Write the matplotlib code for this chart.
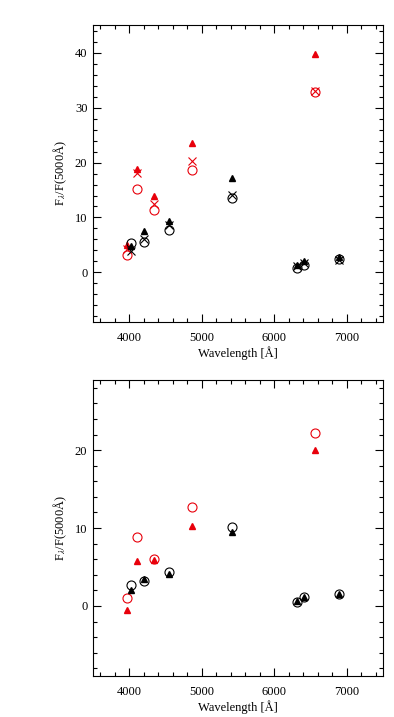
import matplotlib
matplotlib.use("Agg")
import matplotlib.pyplot as plt
from matplotlib.ticker import MultipleLocator

plt.rcParams['font.family'] = ['Liberation Serif', 'DejaVu Serif']
plt.rcParams['mathtext.fontset'] = 'stix'

# line wavelengths
wl_h = [3970, 4102, 4340, 4861, 6563]          # Balmer (red)
wl_he = [4026, 4200, 4542, 5411, 6311, 6406, 6891]  # He II (black)

# top panel
top_h_tri = [5.0, 18.8, 13.9, 23.5, 39.7]
top_h_x = [4.2, 18.1, 12.4, 20.3, 33.0]
top_h_circ = [3.2, 15.2, 11.3, 18.6, 32.9]
top_he_tri = [4.8, 7.5, 9.3, 17.2, 1.3, 2.1, 2.8]
top_he_x = [3.9, 6.1, 8.7, 14.1, 1.1, 1.8, 2.3]
top_he_circ = [5.3, 5.6, 7.7, 13.5, 0.9, 1.4, 2.4]

# bottom panel
bot_h_circ = [1.0, 8.9, 6.0, 12.7, 22.2]
bot_h_tri = [-0.5, 5.8, 5.9, 10.3, 20.0]
bot_he_circ = [2.7, 3.2, 4.4, 10.1, 0.5, 1.1, 1.5]
bot_he_tri = [2.1, 3.5, 4.1, 9.5, 0.6, 1.1, 1.5]

red = '#e8000b'

fig = plt.figure(figsize=(3.94, 7.17), dpi=100)
ax1 = fig.add_axes([0.236, 0.551, 0.736, 0.414])
ax2 = fig.add_axes([0.236, 0.057, 0.736, 0.413])


def style(ax, ylim):
    ax.set_xlim(3500, 7500)
    ax.set_ylim(*ylim)
    ax.xaxis.set_major_locator(MultipleLocator(1000))
    ax.xaxis.set_minor_locator(MultipleLocator(200))
    ax.yaxis.set_major_locator(MultipleLocator(10))
    ax.yaxis.set_minor_locator(MultipleLocator(2))
    ax.tick_params(which='both', direction='in', top=True, right=True,
                   labelsize=9, width=0.8)
    ax.tick_params(which='major', length=6, pad=4)
    ax.tick_params(which='minor', length=3)
    ax.tick_params(axis='x', which='major', pad=7)
    for s in ax.spines.values():
        s.set_linewidth(0.8)
    ax.set_xlabel('Wavelength [Å]', fontsize=9, labelpad=2)
    ax.set_ylabel(r'F$_\lambda$/F(5000Å)', fontsize=9, labelpad=4)


ms_c, ms_t, ms_x = 6.5, 5, 5.5

ax1.plot(wl_h, top_h_circ, 'o', mfc='none', mec=red, ms=ms_c, mew=0.8)
ax1.plot(wl_h, top_h_x, 'x', color=red, ms=ms_x, mew=0.8)
ax1.plot(wl_h, top_h_tri, '^', color=red, ms=ms_t)
ax1.plot(wl_he, top_he_circ, 'o', mfc='none', mec='black', ms=ms_c, mew=0.8)
ax1.plot(wl_he, top_he_x, 'x', color='black', ms=ms_x, mew=0.8)
ax1.plot(wl_he, top_he_tri, '^', color='black', ms=ms_t)
style(ax1, (-9, 45))

ax2.plot(wl_h, bot_h_circ, 'o', mfc='none', mec=red, ms=ms_c, mew=0.8)
ax2.plot(wl_h, bot_h_tri, '^', color=red, ms=ms_t)
ax2.plot(wl_he, bot_he_circ, 'o', mfc='none', mec='black', ms=ms_c, mew=0.8)
ax2.plot(wl_he, bot_he_tri, '^', color='black', ms=ms_t)
style(ax2, (-9, 29))

fig.savefig('out.png', dpi=100)
